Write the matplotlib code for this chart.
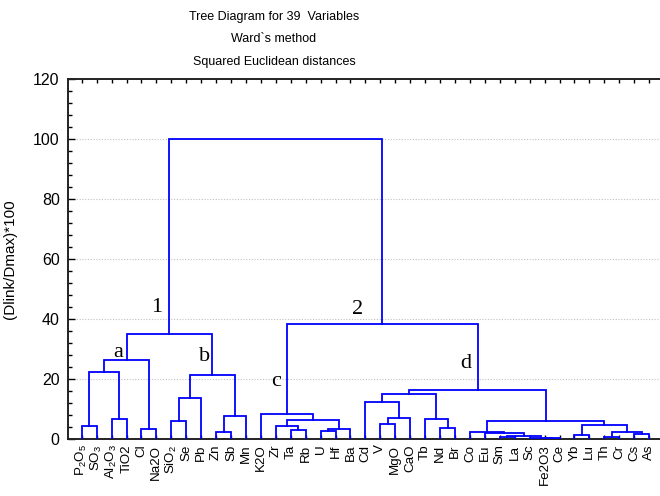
import matplotlib
matplotlib.use("Agg")
import matplotlib.pyplot as plt
from matplotlib.ticker import MultipleLocator

plt.rcParams["mathtext.fontset"] = "custom"
plt.rcParams["mathtext.rm"] = "Liberation Sans"
plt.rcParams["mathtext.it"] = "Liberation Sans:italic"

# leaves in drawing order
variables = ["P2O5", "SO3", "Al2O3", "TiO2", "Cl", "Na2O", "SiO2", "Se", "Pb",
             "Zn", "Sb", "Mn", "K2O", "Zr", "Ta", "Rb", "U", "Hf", "Ba", "Cd",
             "V", "MgO", "CaO", "Tb", "Nd", "Br", "Co", "Eu", "Sm", "La", "Sc",
             "Fe2O3", "Ce", "Yb", "Lu", "Th", "Cr", "Cs", "As"]
tick_labels = ["P$_2$O$_5$", "SO$_3$", "Al$_2$O$_3$", "TiO2", "Cl", "Na2O",
               "SiO$_2$", "Se", "Pb", "Zn", "Sb", "Mn", "K2O", "Zr", "Ta", "Rb",
               "U", "Hf", "Ba", "Cd", "V", "MgO", "CaO", "Tb", "Nd", "Br", "Co",
               "Eu", "Sm", "La", "Sc", "Fe2O3", "Ce", "Yb", "Lu", "Th", "Cr",
               "Cs", "As"]

# merges: (left, right, linkage distance); merge k is called "m<k>"
merges = [
    ("P2O5", "SO3", 4.4), ("Al2O3", "TiO2", 6.8), ("Cl", "Na2O", 3.3),
    ("m0", "m1", 22.3), ("m3", "m2", 26.2),
    ("SiO2", "Se", 6.1), ("m5", "Pb", 13.8), ("Zn", "Sb", 2.5),
    ("m7", "Mn", 7.8), ("m6", "m8", 21.3), ("m4", "m9", 34.9),
    ("Ta", "Rb", 3.0), ("Zr", "m11", 4.4), ("U", "Hf", 2.7),
    ("m13", "Ba", 3.4), ("m12", "m14", 6.3), ("K2O", "m15", 8.2),
    ("V", "MgO", 5.0), ("m17", "CaO", 7.0), ("Cd", "m18", 12.2),
    ("Nd", "Br", 3.8), ("Tb", "m20", 6.6), ("m19", "m21", 15.0),
    ("Sm", "La", 0.7), ("Fe2O3", "Ce", 0.3), ("Sc", "m24", 0.5),
    ("m23", "m25", 1.0), ("Eu", "m26", 1.9), ("Co", "m27", 2.2),
    ("Yb", "Lu", 1.2), ("Th", "Cr", 0.6), ("Cs", "As", 1.7),
    ("m30", "m31", 2.2), ("m29", "m32", 4.7), ("m28", "m33", 5.9),
    ("m22", "m34", 16.3), ("m16", "m35", 38.2), ("m10", "m36", 100.0),
]

# cluster tags: (text, x in leaf units, y)
tags = [("1", 6.0, 44.0), ("2", 19.5, 43.0), ("a", 3.45, 28.8),
        ("b", 9.2, 27.4), ("c", 14.05, 19.1), ("d", 26.7, 25.2)]

fig = plt.figure(figsize=(6.6, 4.96), dpi=100)
ax = fig.add_axes([68 / 660, 1 - 439 / 496, 592 / 660, 360 / 496])

pos = {v: i + 1 for i, v in enumerate(variables)}
hgt = {v: 0.0 for v in variables}
for k, (a, b, h) in enumerate(merges):
    ax.plot([pos[a], pos[a], pos[b], pos[b]], [hgt[a], h, h, hgt[b]],
            color="#0000ff", lw=1.3, solid_joinstyle="miter", zorder=3)
    pos["m%d" % k] = (pos[a] + pos[b]) / 2
    hgt["m%d" % k] = h

for t, x, y in tags:
    ax.text(x, y, t, family="Liberation Serif", fontsize=16, ha="center",
            va="center")

ax.set_xlim(0.082, 39.73)
ax.set_ylim(0, 120)
ax.set_xticks(range(1, len(variables) + 1))
ax.set_xticklabels(tick_labels, rotation=90, family="Liberation Sans",
                   fontsize=9.6, va="top", ha="center")
ax.set_yticks(range(0, 121, 20))
ax.yaxis.set_minor_locator(MultipleLocator(4))
for lab in ax.get_yticklabels():
    lab.set_family("Liberation Sans")
    lab.set_fontsize(11.5)
ax.tick_params(axis="x", direction="in", top=True, bottom=True, length=3,
               width=1, pad=4)
ax.tick_params(axis="y", which="major", direction="in", length=5, width=1,
               pad=6)
ax.tick_params(axis="y", which="minor", direction="in", length=3, width=1)
for y in range(20, 101, 20):
    ax.axhline(y, color="#c0c0c0", lw=0.8, ls=(0, (1, 1.5)), zorder=1)
ax.spines["right"].set_visible(False)
for s in ("left", "top", "bottom"):
    ax.spines[s].set_linewidth(1.4)
    ax.spines[s].set_color("#222222")

ax.set_ylabel("(Dlink/Dmax)*100", family="Liberation Sans", fontsize=11)
ax.yaxis.set_label_coords((17 - 68) / 592, 0.5)

for i, line in enumerate(["Tree Diagram for 39  Variables", "Ward`s method",
                          "Squared Euclidean distances"]):
    fig.text(274 / 660, 1 - (17 + 22.5 * i) / 496, line,
             family="Liberation Sans", fontsize=9, ha="center", va="center")

fig.savefig("out.png", dpi=100)
